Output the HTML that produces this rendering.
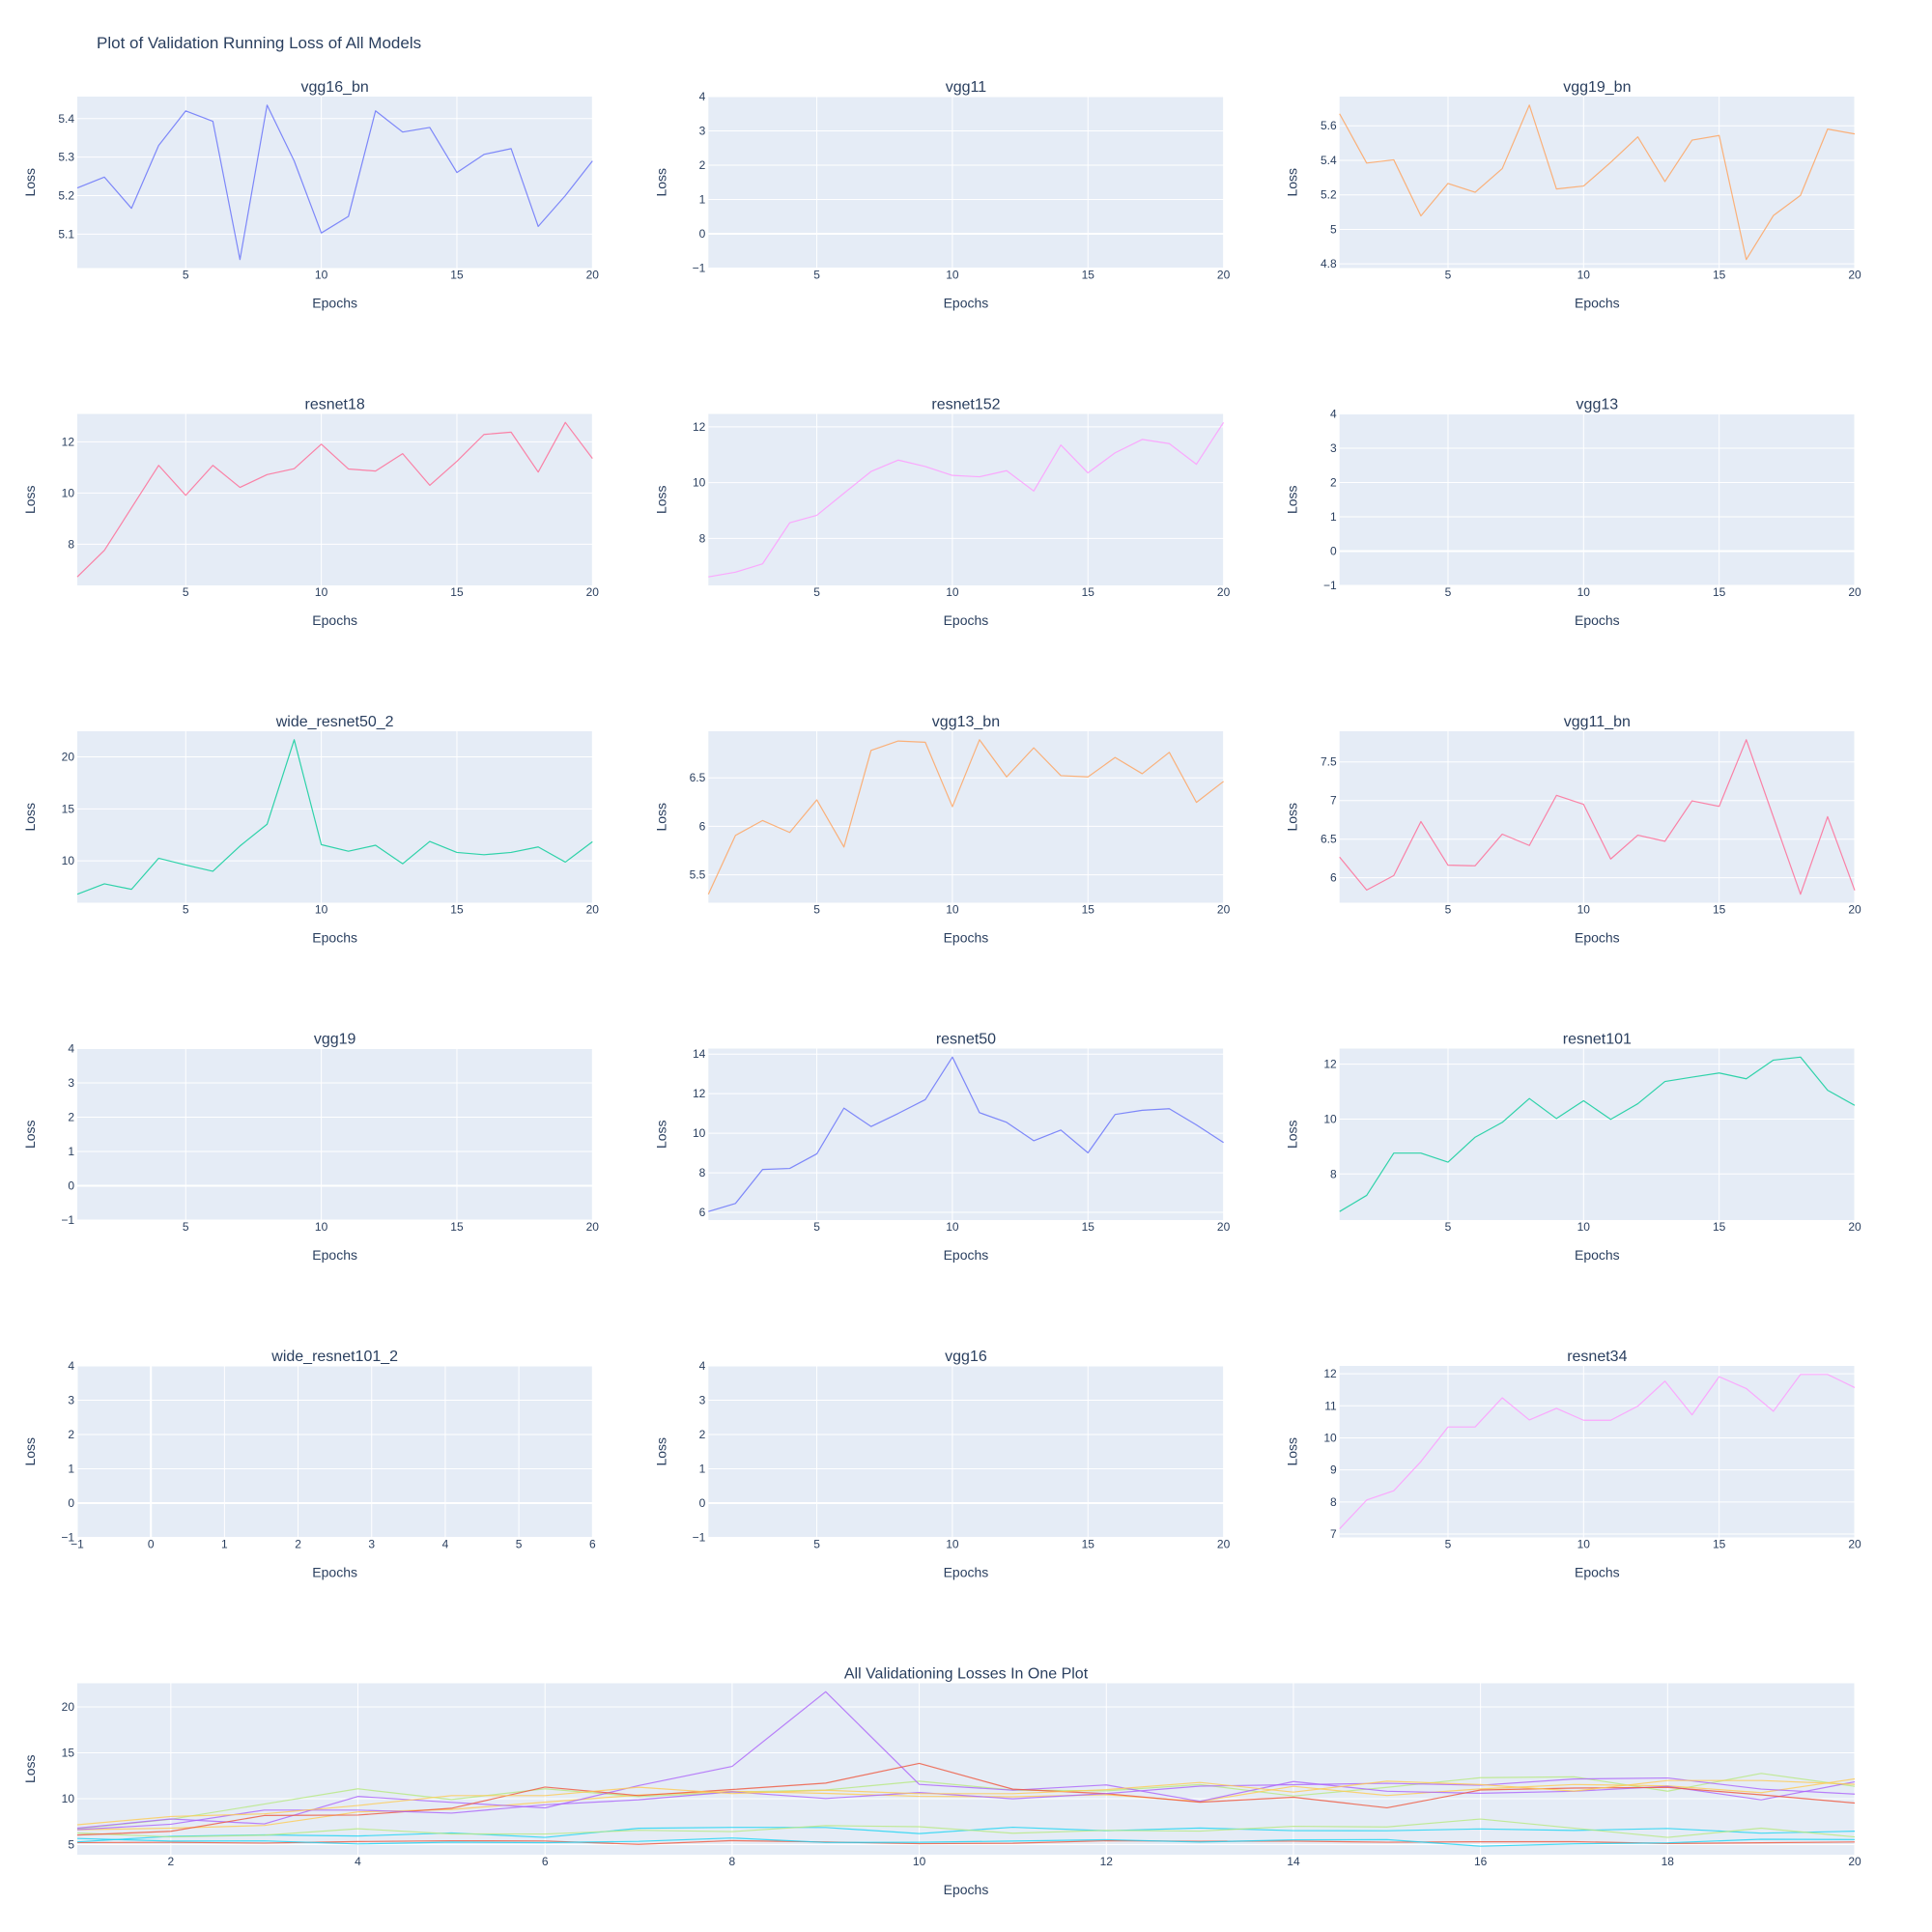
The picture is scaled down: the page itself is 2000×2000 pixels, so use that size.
<!DOCTYPE html>
<html><head><meta charset="utf-8"><style>
html,body{margin:0;padding:0;background:#fff;}
svg{display:block;font-family:"Liberation Sans",Arial,sans-serif;}
</style></head><body>
<svg id="chart" width="2000" height="2000" viewBox="0 0 2000 2000" xmlns="http://www.w3.org/2000/svg">
<rect width="2000" height="2000" fill="#fff"/>
<text x="100" y="50" font-size="17" fill="#2a3f5f">Plot of Validation Running Loss of All Models</text>
</svg>
<script>
const epochs = [1,2,3,4,5,6,7,8,9,10,11,12,13,14,15,16,17,18,19,20];
const modelNames = ["vgg16_bn","vgg11","vgg19_bn","resnet18","resnet152","vgg13","wide_resnet50_2","vgg13_bn","vgg11_bn","vgg19","resnet50","resnet101","wide_resnet101_2","vgg16","resnet34"];
const vgg16_bn = [5.22,5.248,5.167,5.33,5.42,5.393,5.034,5.435,5.29,5.103,5.146,5.42,5.365,5.377,5.26,5.307,5.322,5.12,5.2,5.29];
const vgg11 = [];
const vgg19_bn = [5.67,5.384,5.403,5.078,5.266,5.215,5.352,5.72,5.234,5.251,5.388,5.536,5.277,5.517,5.544,4.825,5.08,5.197,5.581,5.553];
const resnet18 = [6.72,7.76,9.42,11.08,9.91,11.08,10.22,10.72,10.95,11.91,10.94,10.86,11.54,10.30,11.24,12.29,12.38,10.82,12.76,11.35];
const resnet152 = [6.62,6.79,7.09,8.56,8.83,9.62,10.40,10.81,10.58,10.26,10.21,10.43,9.70,11.35,10.35,11.07,11.55,11.40,10.66,12.16];
const vgg13 = [];
const wide_resnet50_2 = [6.79,7.79,7.26,10.25,9.6,9.0,11.43,13.52,21.65,11.56,10.93,11.50,9.72,11.87,10.81,10.59,10.81,11.34,9.88,11.84];
const vgg13_bn = [5.30,5.907,6.06,5.937,6.273,5.787,6.783,6.88,6.867,6.203,6.893,6.51,6.81,6.523,6.51,6.71,6.543,6.763,6.247,6.463];
const vgg11_bn = [6.268,5.841,6.029,6.728,6.163,6.155,6.565,6.418,7.067,6.95,6.243,6.552,6.473,6.996,6.925,7.787,6.787,5.787,6.791,5.837];
const vgg19 = [];
const resnet50 = [6.04,6.45,8.17,8.22,8.96,11.27,10.34,11.0,11.70,13.85,11.04,10.55,9.62,10.16,9.01,10.95,11.16,11.24,10.42,9.53];
const resnet101 = [6.63,7.22,8.76,8.76,8.43,9.34,9.88,10.75,10.02,10.67,9.99,10.56,11.37,11.53,11.68,11.47,12.15,12.26,11.05,10.50];
const wide_resnet101_2 = [];
const vgg16 = [];
const resnet34 = [7.16,8.06,8.35,9.26,10.34,10.34,11.25,10.56,10.92,10.55,10.55,10.99,11.77,10.72,11.91,11.54,10.83,11.98,11.98,11.57];
const seriesList = [vgg16_bn,vgg11,vgg19_bn,resnet18,resnet152,vgg13,wide_resnet50_2,vgg13_bn,vgg11_bn,vgg19,resnet50,resnet101,wide_resnet101_2,vgg16,resnet34];
const palette = ["#636efa","#EF553B","#00cc96","#ab63fa","#FFA15A","#19d3f3","#FF6692","#B6E880","#FF97FF","#FECB52"];
const subplotColorIdx = [0,0,4,6,8,0,2,4,6,0,0,2,0,0,8];
const smallXTicks = [5,10,15,20];
const emptyXTicks = [-1,0,1,2,3,4,5,6];
const bigXTicks = [2,4,6,8,10,12,14,16,18,20];

const NS = "http://www.w3.org/2000/svg";
const svg = document.getElementById("chart");
const FONT = "#2a3f5f";
function mk(tag, attrs, parent){ const e=document.createElementNS(NS,tag); for(const k in attrs) e.setAttribute(k,attrs[k]); (parent||svg).appendChild(e); return e; }
function niceDtick(range){
  const rough = range/5.7; const base = Math.pow(10,Math.floor(Math.log10(rough)));
  const r = rough/base; const m = r<=1?1:r<=2?2:r<=5?5:10; return m*base;
}
function fmt(v,dt){ const dec=Math.max(0,-Math.floor(Math.log10(dt)+1e-9)); let s=v.toFixed(dec); if(s.indexOf('.')>=0) s=s.replace(/0+$/,'').replace(/\.$/,''); if(s==="-0") s="0"; return s.replace('-','\u2212'); }

function panel(L,T,W,H,title,data,colors,xr,xTicks,name){
  const g = mk("g",{});
  
  
  const bg = mk("rect",{x:L,y:T,width:W,height:H,fill:"#e5ecf6"},g);
  
  
  let all=[]; data.forEach(d=>all=all.concat(d));
  let y0,y1,dt;
  if(all.length===0){ y0=-1; y1=4; dt=1; }
  else { const mn=Math.min(...all), mx=Math.max(...all), p=(mx-mn)*0.055; y0=mn-p; y1=mx+p; dt=niceDtick(y1-y0); }
  const sx=v=>L+(v-xr[0])/(xr[1]-xr[0])*W;
  const sy=v=>T+H-(v-y0)/(y1-y0)*H;
  for(const t of xTicks){ if(t<xr[0]-1e-9||t>xr[1]+1e-9) continue; const x=sx(t);
    const gl=mk("line",{x1:x,x2:x,y1:T,y2:T+H,stroke:"#fff","stroke-width":t===0?2:1},g);
    
    
    const tl=mk("text",{x:x,y:T+H+11,"font-size":12,fill:FONT,"text-anchor":"middle"},g); tl.textContent=fmt(t,1);
    
    
  }
  for(let t=Math.ceil(y0/dt-1e-9)*dt; t<=y1+1e-9; t+=dt){ const y=sy(t);
    const isZero=Math.abs(t)<1e-9;
    const gl=mk("line",{x1:L,x2:L+W,y1:y,y2:y,stroke:"#fff","stroke-width":isZero?2:1},g);
    
    
    const tl=mk("text",{x:L-3,y:y+4,"font-size":12,fill:FONT,"text-anchor":"end"},g); tl.textContent=fmt(t,dt);
    
    
  }
  data.forEach((d,i)=>{ if(!d.length) return;
    const pts=d.map((v,j)=>sx(epochs[j]).toFixed(2)+","+sy(v).toFixed(2)).join(" ");
    const pl=mk("polyline",{points:pts,fill:"none",stroke:colors[i],"stroke-width":1.2,"stroke-opacity":0.8,"stroke-linejoin":"round"},g);
    
    
  });
  const tt=mk("text",{x:L+W/2,y:T-5,"font-size":16,fill:FONT,"text-anchor":"middle"},g); tt.textContent=title;
  
  
  const xt=mk("text",{x:L+W/2,y:T+H+41,"font-size":14,fill:FONT,"text-anchor":"middle"},g); xt.textContent="Epochs";
  
  
  const yx=L-44, yy=T+H/2;
  const yt=mk("text",{x:yx,y:yy,"font-size":14,fill:FONT,"text-anchor":"middle",transform:`rotate(-90 ${yx} ${yy})`},g); yt.textContent="Loss";
  
  
}

const colL=[80,733.3,1386.7], colW=533.3, rowH=177.5, rowPitch=328.5;
for(let i=0;i<15;i++){
  const r=Math.floor(i/3), c=i%3;
  const isEmptyAlt = modelNames[i]==="wide_resnet101_2";
  panel(colL[c],100+r*rowPitch,colW,rowH,modelNames[i],[seriesList[i]],[palette[subplotColorIdx[i]]],
    isEmptyAlt?[-1,6]:[1,20], isEmptyAlt?emptyXTicks:smallXTicks, modelNames[i]);
}
const comb=[], combColors=[];
seriesList.forEach((s,i)=>{ if(s.length){ comb.push(s); combColors.push(palette[(subplotColorIdx[i]+1)%10]); } });
panel(80,100+5*rowPitch,1840,rowH,"All Validationing Losses In One Plot",comb,combColors,[1,20],bigXTicks,"all-models");
</script>
</body></html>
